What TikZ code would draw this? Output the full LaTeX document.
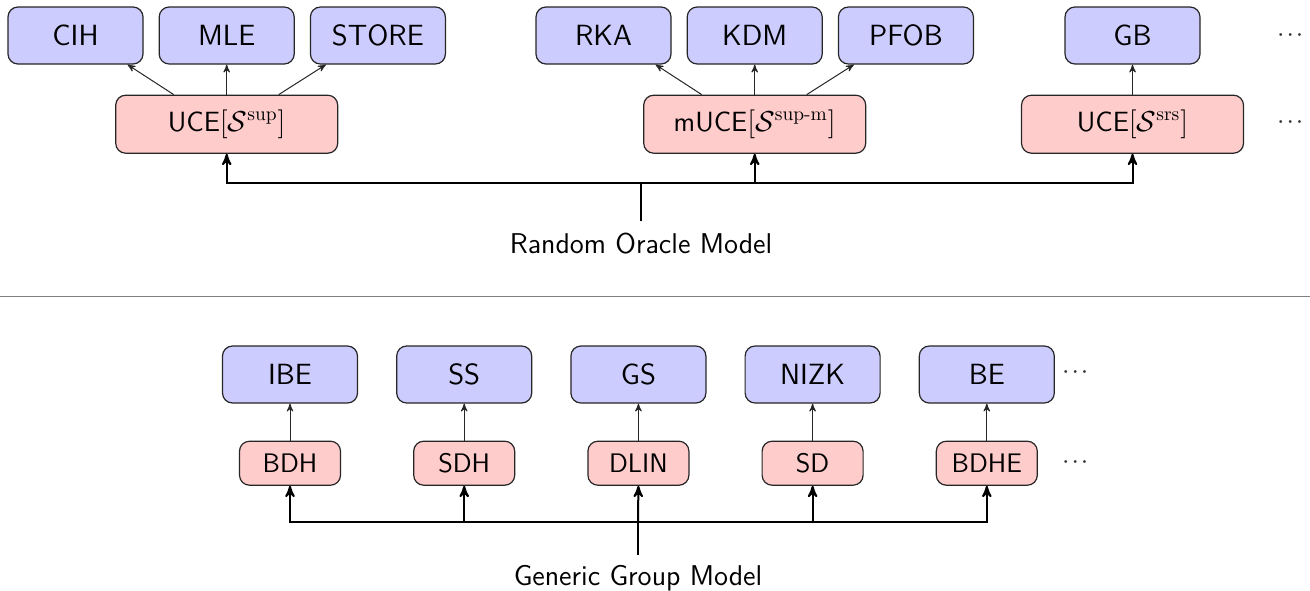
\documentclass[tikz,border=0pt]{standalone}
\usepackage{amsmath}
\usepackage{amssymb}
\usepackage{tikz}
\usetikzlibrary{arrows}
\usetikzlibrary{positioning}
\renewcommand{\familydefault}{\sfdefault}

\begin{document}
\begin{tikzpicture}[x=0.5pt, y=-0.5pt, >=stealth',
    app/.style={draw=black!85, line width=0.6pt, fill=blue!20, rounded corners=5pt,
      minimum width=67.5pt, minimum height=28.5pt, font=\fontsize{14.6}{17}\selectfont},
    prim/.style={draw=black!85, line width=0.6pt, fill=red!20, rounded corners=5pt,
      minimum width=111pt, minimum height=29pt, font=\fontsize{13.9}{16}\selectfont},
    smallprim/.style={prim, minimum width=50.5pt, minimum height=22pt,
      font=\fontsize{13.4}{15}\selectfont},
    use/.style={->, line width=0.5pt, black!85},
    bus/.style={line width=1pt, black},
    model/.style={font=\fontsize{14.3}{16}\selectfont},
    more/.style={font=\fontsize{9.5}{11}\selectfont\boldmath, text=black!80}]
    \useasboundingbox (0,0) rectangle (1310,590);

    % random oracle model
    \node[app] (cih) at (75.5,35.5) {CIH};
    \node[app, right=7.5pt of cih] (mle) {MLE};
    \node[app, right=7.5pt of mle] (store) {STORE};
    \node[app] (rka) at (603.5,35.5) {RKA};
    \node[app, right=7.5pt of rka] (kdm) {KDM};
    \node[app, right=7.5pt of kdm] (pfob) {PFOB};
    \node[app] (gb) at (1132.5,35.5) {GB};
    \node[more] (moreapp) at (1292,35.5) {$\cdots$};

    \node[prim, below=15pt of mle] (uce) {UCE$[\mathcal{S}^{\textrm{sup}}]$};
    \node[prim, below=15pt of kdm] (muce) {mUCE$[\mathcal{S}^{\textrm{sup-m}}]$};
    \node[prim, below=15pt of gb] (srs) {UCE$[\mathcal{S}^{\textrm{srs}}]$};
    \node[more] (moreuce) at (1292,122.5) {$\cdots$};

    \draw[use] ([xshift=-26.5pt]uce.north) -- ([xshift=26pt]cih.south);
    \draw[use] (uce) -- (mle);
    \draw[use] ([xshift=26pt]uce.north) -- ([xshift=-26pt]store.south);
    \draw[use] ([xshift=-26.5pt]muce.north) -- ([xshift=26pt]rka.south);
    \draw[use] (muce) -- (kdm);
    \draw[use] ([xshift=26pt]muce.north) -- ([xshift=-26pt]pfob.south);
    \draw[use] (srs) -- (gb);

    \node[model, anchor=base] (rom) at (641,253) {Random Oracle Model};
    \coordinate (rombus) at (641,183);
    \draw[bus] (rom.north) ++(0,-4) -- (rombus);
    \draw[bus, ->] (rombus) -| (uce.south);
    \draw[bus, ->] (rombus) -| (srs.south);
    \draw[bus, ->] (muce.south |- rombus) -- (muce.south);

    \draw[gray, line width=0.5pt] (0,296) -- (1310,296);

    % generic group model
    \node[app] (ibe) at (290,374.5) {IBE};
    \node[app, right=19pt of ibe] (ss) {SS};
    \node[app, right=19pt of ss] (gs) {GS};
    \node[app, right=19pt of gs] (nizk) {NIZK};
    \node[app, right=19pt of nizk] (be) {BE};
    \node[more] (moregga) at (1077,372) {$\cdots$};

    \node[smallprim, below=18.5pt of ibe] (bdh) {BDH};
    \node[smallprim, below=18.5pt of ss] (sdh) {SDH};
    \node[smallprim, below=18.5pt of gs] (dlin) {DLIN};
    \node[smallprim, below=18.5pt of nizk] (sd) {SD};
    \node[smallprim, below=18.5pt of be] (bdhe) {BDHE};
    \node[more] (moreggp) at (1077,462) {$\cdots$};

    \draw[use] (bdh) -- (ibe);
    \draw[use] (sdh) -- (ss);
    \draw[use] (dlin) -- (gs);
    \draw[use] (sd) -- (nizk);
    \draw[use] (bdhe) -- (be);

    \node[model, anchor=base] (ggm) at (638,585) {Generic Group Model};
    \coordinate (ggmbus) at (638,522);
    \draw[bus] (ggm.north) ++(0,-3) -- (ggmbus);
    \draw[bus, ->] (ggmbus) -| (bdh.south);
    \draw[bus, ->] (ggmbus) -| (bdhe.south);
    \draw[bus, ->] (ggmbus) -- (dlin.south);
    \draw[bus, ->] (sdh.south |- ggmbus) -- (sdh.south);
    \draw[bus, ->] (sd.south |- ggmbus) -- (sd.south);
\end{tikzpicture}
\end{document}
